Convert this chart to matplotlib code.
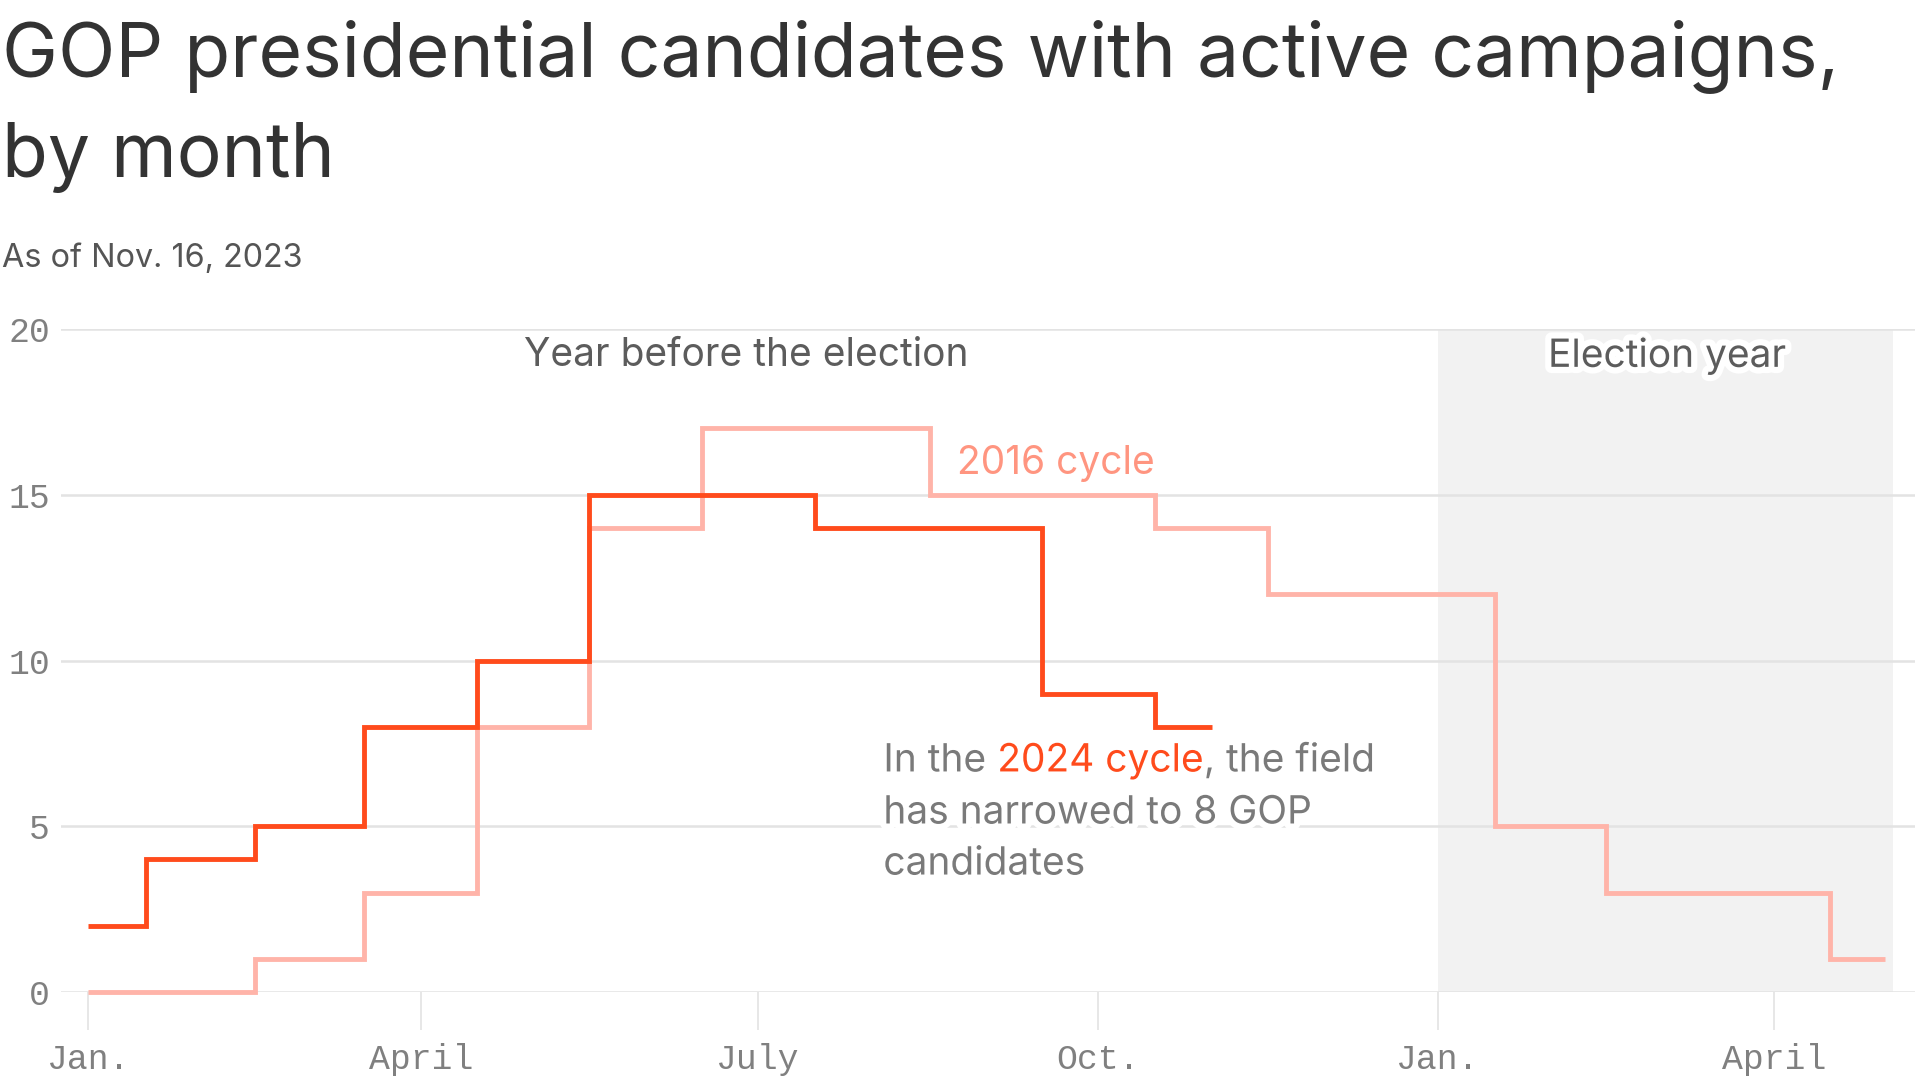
import matplotlib
matplotlib.use("Agg")
import matplotlib.pyplot as plt
import matplotlib.dates as mdates
import matplotlib.patheffects as pe
import numpy as np
from datetime import date

# --- data: candidates with active campaigns, first of each month ---
meses_2024 = [date(2023, m, 1) for m in range(1, 12)]
cand_2024 = [2, 4, 5, 8, 10, 15, 15, 14, 14, 9, 8]

meses_2016 = [date(2023, m, 1) for m in range(1, 13)] + [date(2024, m, 1) for m in range(1, 6)]
cand_2016 = [0, 0, 1, 3, 8, 14, 17, 17, 15, 15, 14, 12, 12, 5, 3, 3, 1]

tick_fechas = [date(2023, 1, 1), date(2023, 4, 1), date(2023, 7, 1),
               date(2023, 10, 1), date(2024, 1, 1), date(2024, 4, 1)]
tick_labels = ["Jan.", "April", "July", "Oct.", "Jan.", "April"]
y_ticks = [0, 5, 10, 15, 20]

# colores
ROJO = "#ff4b1c"
ROSA = "#ffb4a9"
ROSA_TXT = "#ff9580"
GRIS_OSC = "#333333"
GRIS = "#5c5c5c"
GRIS_CLARO = "#7a7a7a"

plt.rcParams["font.family"] = ["Inter", "DejaVu Sans"]

fig = plt.figure(figsize=(19.2, 10.8), dpi=100)
W, H = 1920, 1080
# ejes colocados en pixeles
ax = fig.add_axes([61 / W, 1 - 992 / H, (1915 - 61) / W, (992 - 329) / H])

x24 = mdates.date2num(meses_2024)
x16 = mdates.date2num(meses_2016)

# zona del año electoral
ax.axvspan(mdates.date2num(date(2024, 1, 1)), mdates.date2num(date(2024, 5, 3)),
           color="#f2f2f2", zorder=0, lw=0)

ax.step(x16, cand_2016, where="mid", color=ROSA, lw=3.5, zorder=3,
        solid_joinstyle="miter", solid_capstyle="butt", clip_on=False)
ax.step(x24, cand_2024, where="mid", color=ROJO, lw=3.5, zorder=4,
        solid_joinstyle="miter", solid_capstyle="butt", clip_on=False)

ax.set_xlim(mdates.date2num(date(2023, 1, 1)) - 7.4, mdates.date2num(date(2023, 1, 1)) + 494.0)
ax.set_ylim(0, 20)

ax.set_yticks(y_ticks)
ax.set_yticklabels([str(v) for v in y_ticks])
ax.set_xticks(mdates.date2num(tick_fechas))
ax.set_xticklabels(tick_labels)

for s in ax.spines.values():
    s.set_visible(False)
ax.grid(axis="y", color="#e3e3e3", lw=1.8, zorder=1)
ax.set_axisbelow(True)
ax.tick_params(axis="y", length=0, pad=8, labelsize=25, labelcolor="#808080")
ax.tick_params(axis="x", length=27.5, width=1.2, color="#e3e3e3", pad=9,
               labelsize=25, labelcolor="#808080")
for lab in ax.get_xticklabels() + ax.get_yticklabels():
    lab.set_family("Liberation Mono")

halo = [pe.withStroke(linewidth=9, foreground="white")]
FS = 28

# etiquetas de las zonas
ax.text(mdates.date2num(date(2023, 6, 28)), 19.19, "Year before the election",
        ha="center", va="center", fontsize=FS, color=GRIS, zorder=5)
ax.text(mdates.date2num(date(2024, 3, 3)), 19.19, "Election year",
        ha="center", va="center", fontsize=FS, color=GRIS, zorder=5,
        path_effects=halo)
ax.text(mdates.date2num(date(2023, 8, 24)), 15.93, "2016 cycle",
        ha="left", va="center", fontsize=FS, color=ROSA_TXT, zorder=5)

# anotación 2024 con color mixto
xa = mdates.date2num(date(2023, 8, 4))
t1 = ax.text(xa, 6.97, "In the ", ha="left", va="center", fontsize=FS,
             color=GRIS_CLARO, zorder=5, path_effects=halo)
t2 = ax.annotate("2024 cycle", xy=(1, 0), xycoords=t1, ha="left", va="bottom",
                 fontsize=FS, color=ROJO, zorder=5, path_effects=halo)
ax.annotate(", the field", xy=(1, 0), xycoords=t2, ha="left", va="bottom",
            fontsize=FS, color=GRIS_CLARO, zorder=5, path_effects=halo)
ax.text(xa, 5.40, "has narrowed to 8 GOP", ha="left", va="center", fontsize=FS,
        color=GRIS_CLARO, zorder=5, path_effects=halo)
ax.text(xa, 3.86, "candidates", ha="left", va="center", fontsize=FS,
        color=GRIS_CLARO, zorder=5, path_effects=halo)

# títulos
fig.text(0.001, 1 - 76 / H, "GOP presidential candidates with active campaigns,",
         ha="left", va="baseline", fontsize=54, color=GRIS_OSC)
fig.text(0.001, 1 - 177 / H, "by month", ha="left", va="baseline",
         fontsize=54, color=GRIS_OSC)
fig.text(0.001, 1 - 267 / H, "As of Nov. 16, 2023", ha="left", va="baseline",
         fontsize=23.3, color="#555555")

fig.savefig("out.png", dpi=100, facecolor="white")
